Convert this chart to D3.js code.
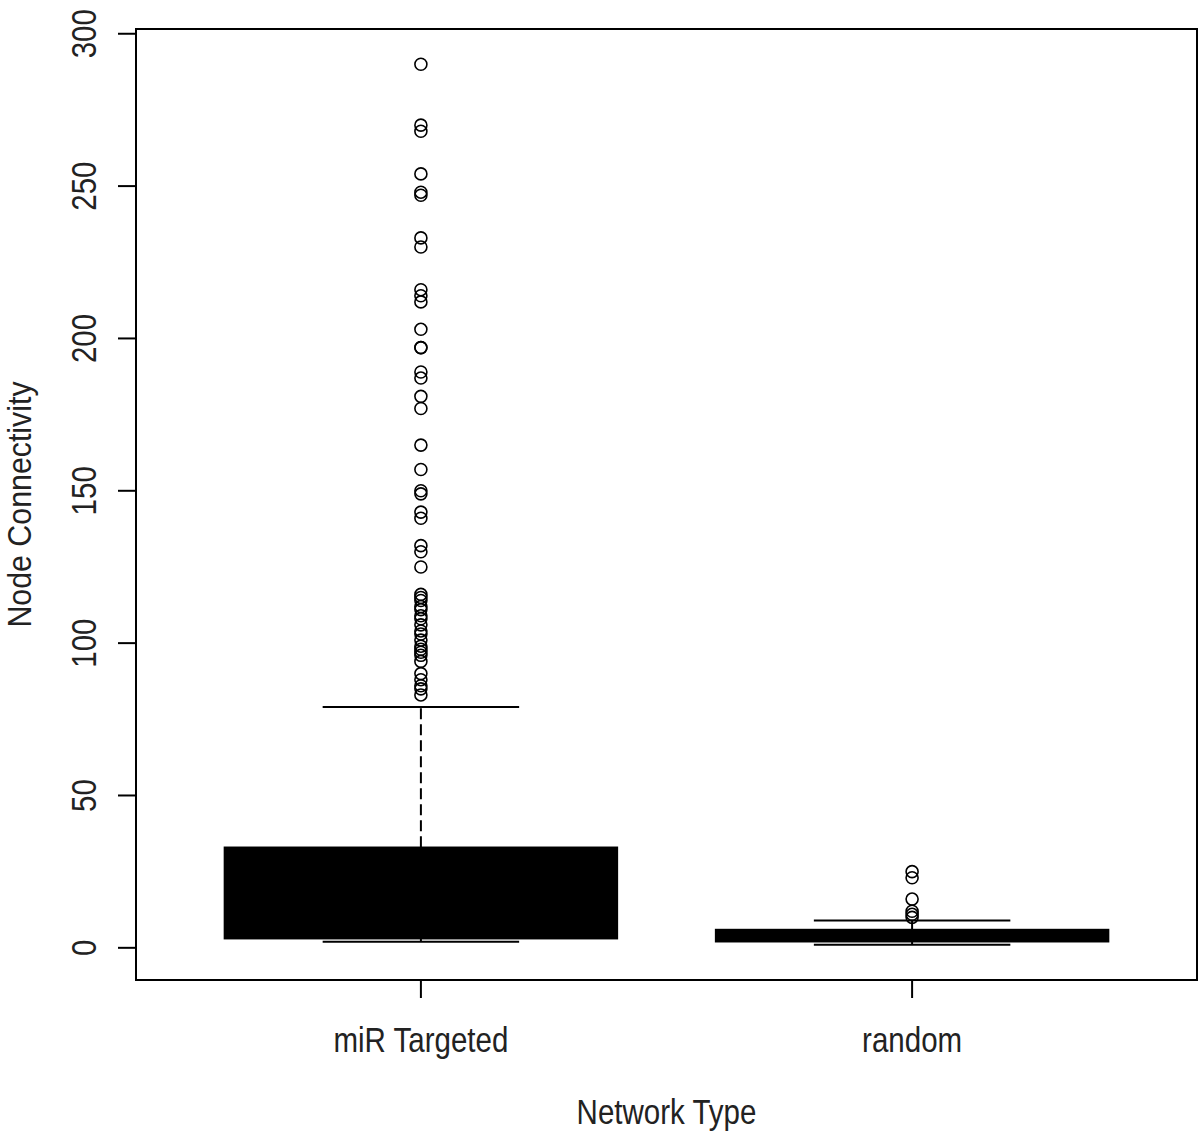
<!DOCTYPE html>
<html>
<head>
<meta charset="utf-8">
<title>Node Connectivity boxplot</title>
<script src="https://d3js.org/d3.v7.min.js"></script>
<style>
  body { margin: 0; background: #fff; }
  text { font-family: "Liberation Sans", Arial, sans-serif; fill: #222; }
</style>
</head>
<body>
<svg width="1200" height="1138"></svg>
<script>
// box statistics, one entry per network type
const groups = ["miR Targeted", "random"];
const lowWhisker = [2, 1];
const q1 = [3, 2];
const median = [12, 3];
const q3 = [33, 6];
const highWhisker = [79, 9];

// outliers
const outliersMir = [290, 270, 268, 254, 248, 247, 233, 230, 216, 214, 212, 203,
  197, 197, 189, 187, 181, 177, 165, 157, 150, 149, 143, 141, 132, 130, 125,
  116, 115, 114, 112, 111, 109, 108, 106, 104, 103, 101, 99, 98, 97, 96, 94,
  90, 88, 86, 85, 83];
const outliersRandom = [25, 23, 16, 12, 11, 10];
const outliers = [outliersMir, outliersRandom];

const yTicks = [0, 50, 100, 150, 200, 250, 300];

var svg = d3.select("svg"),
    plot = {left: 136, right: 1197, top: 29, bottom: 980},
    squeeze = 0.82;   // text in the picture is narrower than normal

// R style 4% padding on both axes
var x = d3.scaleLinear().domain([0.42, 2.58]).range([plot.left, plot.right]);
var y = d3.scaleLinear().domain([-10.56, 301.56]).range([plot.bottom, plot.top]);

var g = svg.append("g");

groups.forEach(function(name, i) {
  var cx = x(i + 1);
  var half = x(i + 1.4) - cx;
  var capHalf = half / 2;

  // dashed whiskers
  g.append("line")
    .attr("x1", cx).attr("x2", cx)
    .attr("y1", y(q3[i])).attr("y2", y(highWhisker[i]))
    .attr("stroke", "#000").attr("stroke-width", 2)
    .attr("stroke-dasharray", "11,5");
  g.append("line")
    .attr("x1", cx).attr("x2", cx)
    .attr("y1", y(q1[i])).attr("y2", y(lowWhisker[i]))
    .attr("stroke", "#000").attr("stroke-width", 2);

  // whisker caps
  [lowWhisker[i], highWhisker[i]].forEach(function(v) {
    g.append("line")
      .attr("x1", cx - capHalf).attr("x2", cx + capHalf)
      .attr("y1", y(v)).attr("y2", y(v))
      .attr("stroke", "#000").attr("stroke-width", 2);
  });

  // box, filled black
  g.append("rect")
    .attr("x", cx - half)
    .attr("width", 2 * half)
    .attr("y", y(q3[i]))
    .attr("height", y(q1[i]) - y(q3[i]))
    .attr("fill", "#000").attr("stroke", "#000").attr("stroke-width", 1.5);

  g.append("line")
    .attr("x1", cx - half).attr("x2", cx + half)
    .attr("y1", y(median[i])).attr("y2", y(median[i]))
    .attr("stroke", "#000").attr("stroke-width", 4);

  // outliers
  g.selectAll(null)
    .data(outliers[i])
    .enter().append("circle")
    .attr("cx", cx)
    .attr("cy", function(d) { return y(d); })
    .attr("r", 6)
    .attr("fill", "none")
    .attr("stroke", "#000")
    .attr("stroke-width", 1.6);
});

// frame
svg.append("rect")
  .attr("x", plot.left).attr("y", plot.top)
  .attr("width", plot.right - plot.left)
  .attr("height", plot.bottom - plot.top)
  .attr("fill", "none").attr("stroke", "#000").attr("stroke-width", 2);

// y axis ticks and labels
yTicks.forEach(function(t) {
  svg.append("line")
    .attr("x1", plot.left - 18).attr("x2", plot.left)
    .attr("y1", y(t)).attr("y2", y(t))
    .attr("stroke", "#000").attr("stroke-width", 2);
  svg.append("text")
    .attr("transform", "translate(96," + y(t) + ") rotate(-90) scale(" + squeeze + ",1)")
    .attr("text-anchor", "middle")
    .style("font-size", "36px")
    .text(t);
});

// x axis ticks and labels
groups.forEach(function(name, i) {
  svg.append("line")
    .attr("x1", x(i + 1)).attr("x2", x(i + 1))
    .attr("y1", plot.bottom).attr("y2", plot.bottom + 18)
    .attr("stroke", "#000").attr("stroke-width", 2);
  svg.append("text")
    .attr("transform", "translate(" + x(i + 1) + ",1052) scale(" + squeeze + ",1)")
    .attr("text-anchor", "middle")
    .style("font-size", "36px")
    .text(name);
});

// axis titles
svg.append("text")
  .attr("transform", "translate(" + (plot.left + plot.right) / 2 + ",1124) scale(" + squeeze + ",1)")
  .attr("text-anchor", "middle")
  .style("font-size", "36px")
  .text("Network Type");

svg.append("text")
  .attr("transform", "translate(31," + (plot.top + plot.bottom) / 2 + ") rotate(-90) scale(0.92,1)")
  .attr("text-anchor", "middle")
  .style("font-size", "33px")
  .text("Node Connectivity");
</script>
</body>
</html>
